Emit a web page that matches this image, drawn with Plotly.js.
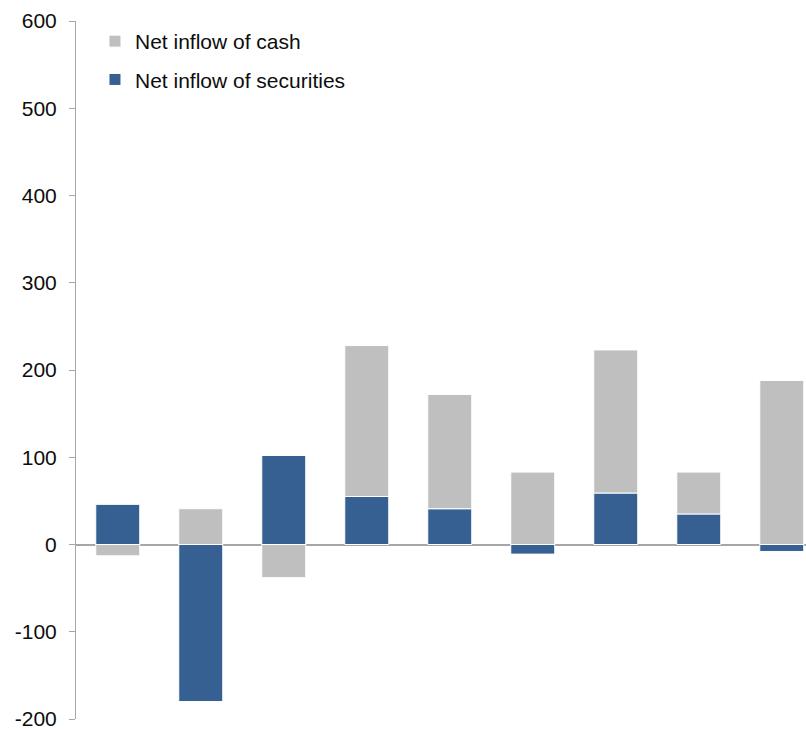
<!DOCTYPE html>
<html>
<head>
<meta charset="utf-8">
<script src="https://cdn.plot.ly/plotly-3.0.1.min.js"></script>
<style>html,body{margin:0;padding:0;background:#fff;}#chart{width:806px;height:729px;}</style>
</head>
<body>
<div id="chart"></div>
<script>
// Data
const categories = ["P1", "P2", "P3", "P4", "P5", "P6", "P7", "P8", "P9"];
const securities = [46, -180, 102, 55, 41, -11, 59, 35, -8];
const cash = [-13, 41, -38, 173, 131, 83, 164, 48, 188];
const seriesNames = ["Net inflow of securities", "Net inflow of cash"];
const yTicks = [-200, -100, 0, 100, 200, 300, 400, 500, 600];

const font = "Liberation Sans, Arial, sans-serif";

const traces = [
  {
    type: "bar", x: categories, y: securities, name: seriesNames[0],
    marker: {color: "#366092", line: {color: "#ffffff", width: 1}},
    legendrank: 2, legendgroup: "s", hoverinfo: "y"
  },
  {
    type: "bar", x: categories, y: cash, name: seriesNames[1],
    marker: {color: "#bfbfbf", line: {color: "#ffffff", width: 1}},
    legendrank: 1, legendgroup: "c", hoverinfo: "y"
  }
];

const layout = {
  width: 806, height: 729,
  margin: {l: 76, r: 0, t: 21, b: 10, pad: 0},
  paper_bgcolor: "#ffffff", plot_bgcolor: "#ffffff",
  barmode: "relative",
  bargap: 0.47,
  font: {family: font, size: 21, color: "#0d0d0d"},
  showlegend: true,
  legend: {
    x: 0.026, y: 1.0, xanchor: "left", yanchor: "top",
    bgcolor: "rgba(0,0,0,0)", traceorder: "grouped", tracegroupgap: 8,
    font: {family: font, size: 21, color: "#0d0d0d"}
  },
  xaxis: {
    type: "category", range: [-0.503, 8.292],
    showticklabels: false, ticks: "", showgrid: false, zeroline: false,
    showline: false, fixedrange: true
  },
  yaxis: {
    range: [-200, 600], tickvals: yTicks, ticktext: yTicks.map(String),
    showgrid: false, zeroline: true, zerolinecolor: "#a6a6a6", zerolinewidth: 2,
    showline: true, linecolor: "#a6a6a6", linewidth: 1,
    ticks: "outside", ticklen: 6, tickcolor: "#a6a6a6", tickwidth: 1,
    ticklabelstandoff: 8, ticklabeloverflow: "allow",
    automargin: false,
    tickfont: {family: font, size: 21, color: "#0d0d0d"},
    fixedrange: true
  }
};

Plotly.newPlot("chart", traces, layout, {displayModeBar: false, staticPlot: true});
</script>
</body>
</html>
